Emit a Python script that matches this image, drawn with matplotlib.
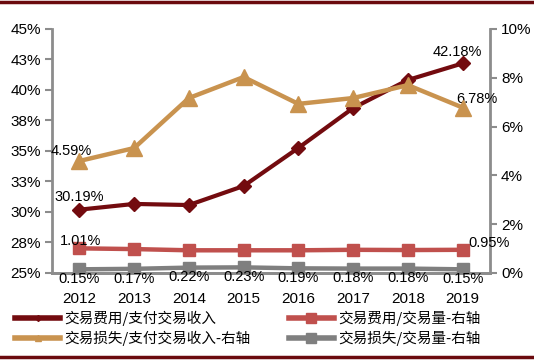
import matplotlib
matplotlib.use("Agg")
import matplotlib.pyplot as plt
from matplotlib.lines import Line2D

plt.rcParams['font.family'] = ['Liberation Sans', 'Noto Sans CJK SC', 'DejaVu Sans']

years = ['2012', '2013', '2014', '2015', '2016', '2017', '2018', '2019']
fee_income = [30.19, 30.66, 30.57, 32.13, 35.25, 38.52, 40.82, 42.18]
loss_income = [4.59, 5.12, 7.17, 8.03, 6.93, 7.17, 7.70, 6.78]
fee_volume = [1.01, 0.98, 0.93, 0.93, 0.93, 0.95, 0.94, 0.95]
loss_volume = [0.15, 0.17, 0.22, 0.23, 0.19, 0.18, 0.18, 0.15]
left_ticks = [25, 27.5, 30, 32.5, 35, 37.5, 40, 42.5, 45]
left_labels = ['25%', '28%', '30%', '33%', '35%', '38%', '40%', '43%', '45%']
right_ticks = [0, 2, 4, 6, 8, 10]
right_labels = ['0%', '2%', '4%', '6%', '8%', '10%']
names = ['交易费用/支付交易收入', '交易损失/支付交易收入-右轴',
         '交易费用/交易量-右轴', '交易损失/交易量-右轴']

c_dark = '#730B0F'
c_tan = '#C9934F'
c_red = '#C0504D'
c_gray = '#7F7F7F'
axis_c = '#8C8C8C'

fig = plt.figure(figsize=(5.34, 3.61), dpi=100)
ax = fig.add_axes([0.0974, 0.2438, 0.8202, 0.6759])
ax2 = ax.twinx()
x = list(range(len(years)))

l1, = ax.plot(x, fee_income, color=c_dark, lw=3, marker='D', ms=7, zorder=5)
l2, = ax2.plot(x, loss_income, color=c_tan, lw=3.2, marker='^', ms=11, zorder=4)
l3, = ax2.plot(x, fee_volume, color=c_red, lw=3.2, marker='s', ms=9, zorder=3)
l4, = ax2.plot(x, loss_volume, color=c_gray, lw=3.2, marker='s', ms=9, zorder=3)

ax.set_ylim(25, 45)
ax2.set_ylim(0, 10)
ax.set_xlim(-0.5, 7.5)
ax.set_yticks(left_ticks)
ax.set_yticklabels(left_labels)
ax2.set_yticks(right_ticks)
ax2.set_yticklabels(right_labels)
ax.set_xticks(x)
ax.set_xticklabels(years)

fs = 10.5
tfs = 11
for a in (ax, ax2):
    for s in ['top']:
        a.spines[s].set_visible(False)
    for s in ['left', 'right', 'bottom']:
        a.spines[s].set_color(axis_c)
        a.spines[s].set_linewidth(2)
    a.tick_params(axis='y', colors=axis_c, labelcolor='black', labelsize=tfs,
                  length=5, width=1.5, pad=3)
ax.tick_params(axis='x', length=0, labelsize=tfs, pad=14)
ax2.spines['left'].set_visible(False)
ax.spines['right'].set_visible(False)

# data labels
ax.annotate(f'{fee_income[0]:.2f}%', (0, fee_income[0]), xytext=(0, 9),
            textcoords='offset points', ha='center', va='center', fontsize=fs)
ax.annotate(f'{fee_income[-1]:.2f}%', (7, fee_income[-1]), xytext=(-4, 8),
            textcoords='offset points', ha='center', va='center', fontsize=fs)
ax2.annotate(f'{loss_income[0]:.2f}%', (0, loss_income[0]), xytext=(-6, 7),
             textcoords='offset points', ha='center', va='center', fontsize=fs)
ax2.annotate(f'{loss_income[-1]:.2f}%', (7, loss_income[-1]), xytext=(10, 6),
             textcoords='offset points', ha='center', va='center', fontsize=fs)
ax2.annotate(f'{fee_volume[0]:.2f}%', (0, fee_volume[0]), xytext=(1, 5),
             textcoords='offset points', ha='center', va='center', fontsize=fs)
ax2.annotate(f'{fee_volume[-1]:.2f}%', (7, fee_volume[-1]), xytext=(19, 5),
             textcoords='offset points', ha='center', va='center', fontsize=fs)
for i, v in enumerate(loss_volume):
    ax2.annotate(f'{v:.2f}%', (i, v), xytext=(0, -7),
                 textcoords='offset points', ha='center', va='center',
                 fontsize=fs, zorder=10, annotation_clip=False)

h1 = Line2D([], [], color=c_dark, lw=4, marker='D', ms=3)
h2 = Line2D([], [], color=c_tan, lw=4, marker='^', ms=4)
h3 = Line2D([], [], color=c_red, lw=4, marker='s', ms=7)
h4 = Line2D([], [], color=c_gray, lw=4, marker='s', ms=7)
leg = fig.legend([h1, h2, h3, h4], names, ncol=2, loc='upper left',
                 bbox_to_anchor=(0.028, 0.138), frameon=False,
                 prop={'family': ['Noto Sans CJK SC', 'DejaVu Sans'], 'size': 10.5},
                 handlelength=3.1, handletextpad=0.3, columnspacing=2.6,
                 labelspacing=0.3, borderpad=0, borderaxespad=0)

# frame lines top and bottom
fig.add_artist(Line2D([0, 1], [0.994, 0.994], color='#6B0A0E', lw=2.5,
                      transform=fig.transFigure))
fig.add_artist(Line2D([0, 1], [0.011, 0.011], color='#6B0A0E', lw=2.5,
                      transform=fig.transFigure))

fig.savefig('out.png', dpi=100, facecolor='white')
